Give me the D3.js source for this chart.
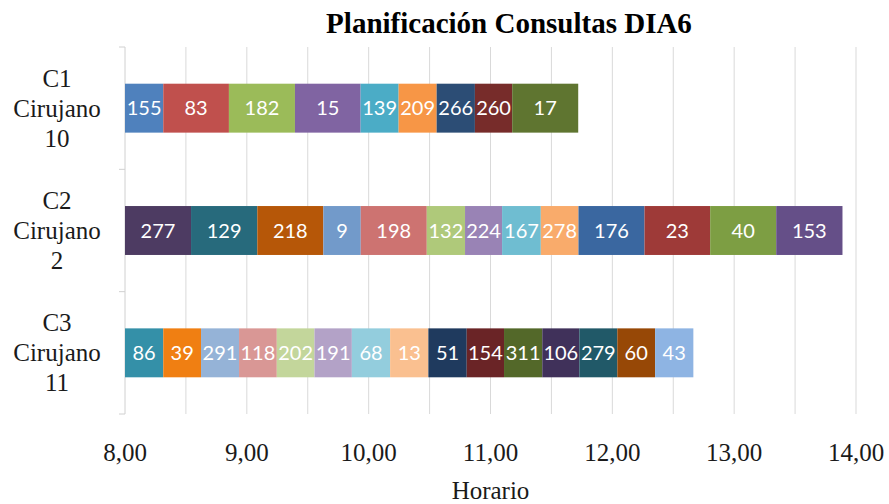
<!DOCTYPE html>
<html>
<head>
<meta charset="utf-8">
<script src="https://cdn.jsdelivr.net/npm/d3@7"></script>
<style>
  html, body { margin: 0; padding: 0; background: #fff; }
  svg { display: block; }
</style>
</head>
<body>
<div id="chart"></div>
<script>
// ---- data ----
const title = "Planificación Consultas DIA6";
const xTitle = "Horario";
const categories = ["C1 Cirujano 10", "C2 Cirujano 2", "C3 Cirujano 11"];
const startHour = 8;
const xTickValues = [8, 9, 10, 11, 12, 13, 14];

const c1Labels = [155, 83, 182, 15, 139, 209, 266, 260, 17];
const c1Durations = [0.314, 0.539, 0.542, 0.539, 0.312, 0.312, 0.314, 0.306, 0.542];

const c2Labels = [277, 129, 218, 9, 198, 132, 224, 167, 278, 176, 23, 40, 153];
const c2Durations = [0.542, 0.544, 0.542, 0.307, 0.542, 0.314, 0.304, 0.318, 0.309, 0.542, 0.539, 0.542, 0.544];

const c3Labels = [86, 39, 291, 118, 202, 191, 68, 13, 51, 154, 311, 106, 279, 60, 43];
const c3Durations = [0.314, 0.310, 0.312, 0.310, 0.309, 0.307, 0.314, 0.314, 0.315, 0.306, 0.314, 0.304, 0.312, 0.310, 0.314];

// ---- colours (styles) ----
const c1Colors = ["#4F81BD", "#C0504D", "#9BBB59", "#8064A2", "#4BACC6", "#F79646", "#2C4D75", "#772C2A", "#5F7530"];
const c2Colors = ["#4D3B62", "#276A7C", "#B65708", "#729ACA", "#CD7371", "#AFC97A", "#9983B5", "#6FBDD1", "#F9AB6B", "#3A67A0", "#9E3A38", "#7D9E43", "#654F88"];
const c3Colors = ["#3490A8", "#F07F12", "#95B3D7", "#D99795", "#C3D69B", "#B3A2C7", "#93CDDD", "#FAC090", "#1F3A5E", "#6A2426", "#536829", "#40315A", "#215968", "#974806", "#8EB4E3"];

const rows = [
  { cat: categories[0], labels: c1Labels, durs: c1Durations, colors: c1Colors },
  { cat: categories[1], labels: c2Labels, durs: c2Durations, colors: c2Colors },
  { cat: categories[2], labels: c3Labels, durs: c3Durations, colors: c3Colors }
];

// ---- layout ----
const W = 889, H = 504;
const plotTop = 47, plotBottom = 414, plotLeft = 125, plotRight = 856;

const svg = d3.select("#chart").append("svg")
  .attr("width", W).attr("height", H);

const x = d3.scaleLinear().domain([8, 14]).range([plotLeft, plotRight]);
const y = d3.scaleBand().domain(categories).range([plotTop, plotBottom])
  .paddingInner(0.6).paddingOuter(0.3);
const yEdges = d3.scaleLinear().domain([0, categories.length]).range([plotTop, plotBottom]);

// gridlines every half hour
const gridVals = d3.range(8.5, 14.0001, 0.5);
svg.append("g").selectAll("line").data(gridVals).join("line")
  .attr("x1", d => x(d)).attr("x2", d => x(d))
  .attr("y1", plotTop).attr("y2", plotBottom)
  .attr("stroke", "#d9d9d9").attr("stroke-width", 1);

// vertical axis line + tick marks
svg.append("line")
  .attr("x1", plotLeft).attr("x2", plotLeft)
  .attr("y1", plotTop).attr("y2", plotBottom)
  .attr("stroke", "#d0d0d0").attr("stroke-width", 1);
svg.append("g").selectAll("line").data(d3.range(0, categories.length + 1)).join("line")
  .attr("x1", plotLeft - 6).attr("x2", plotLeft)
  .attr("y1", d => yEdges(d)).attr("y2", d => yEdges(d))
  .attr("stroke", "#d0d0d0").attr("stroke-width", 1);

// bars
rows.forEach(r => {
  let acc = startHour;
  const segs = r.durs.map((d, i) => {
    const s = { x0: acc, x1: acc + d, label: r.labels[i], color: r.colors[i] };
    acc += d;
    return s;
  });
  const g = svg.append("g");
  g.selectAll("rect").data(segs).join("rect")
    .attr("x", d => x(d.x0))
    .attr("width", d => x(d.x1) - x(d.x0))
    .attr("y", y(r.cat))
    .attr("height", y.bandwidth())
    .attr("fill", d => d.color);
  g.selectAll("text").data(segs).join("text")
    .attr("x", d => (x(d.x0) + x(d.x1)) / 2)
    .attr("y", y(r.cat) + y.bandwidth() / 2)
    .attr("dy", "0.36em")
    .attr("text-anchor", "middle")
    .attr("font-family", "Lato, 'Open Sans', sans-serif")
    .attr("font-size", 20)
    .attr("fill", "#ffffff")
    .text(d => d.label);
});

// category labels
categories.forEach(c => {
  const parts = c.split(" ");
  const cy = y(c) + y.bandwidth() / 2;
  const t = svg.append("text")
    .attr("text-anchor", "middle")
    .attr("font-family", "'Liberation Serif', 'Times New Roman', serif")
    .attr("font-size", 25)
    .attr("fill", "#1a1a1a");
  parts.forEach((p, i) => {
    t.append("tspan")
      .attr("x", 57)
      .attr("y", cy + (i - (parts.length - 1) / 2) * 30)
      .attr("dy", "0.34em")
      .text(p);
  });
});

// x axis tick labels
const fmt = v => d3.format(".2f")(v).replace(".", ",");
svg.append("g").selectAll("text").data(xTickValues).join("text")
  .attr("x", d => x(d))
  .attr("y", 461)
  .attr("text-anchor", "middle")
  .attr("font-family", "'Liberation Serif', 'Times New Roman', serif")
  .attr("font-size", 25)
  .attr("fill", "#1a1a1a")
  .text(fmt);

// axis title
svg.append("text")
  .attr("x", (plotLeft + plotRight) / 2)
  .attr("y", 499)
  .attr("text-anchor", "middle")
  .attr("font-family", "'Liberation Serif', 'Times New Roman', serif")
  .attr("font-size", 25)
  .attr("fill", "#1a1a1a")
  .text(xTitle);

// chart title
svg.append("text")
  .attr("x", 509)
  .attr("y", 33)
  .attr("text-anchor", "middle")
  .attr("font-family", "'Liberation Serif', 'Times New Roman', serif")
  .attr("font-weight", "bold")
  .attr("font-size", 29)
  .attr("fill", "#000")
  .text(title);
</script>
</body>
</html>
